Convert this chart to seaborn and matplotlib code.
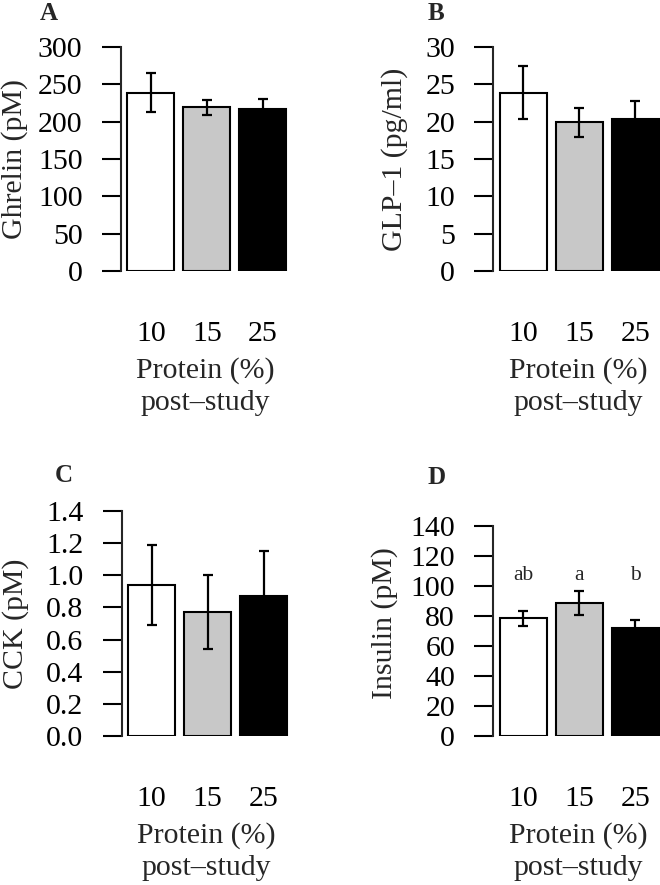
import matplotlib
matplotlib.use("Agg")
import matplotlib.pyplot as plt
import seaborn as sns
import pandas as pd
import numpy as np

# ---- data ----
protein = ["10", "15", "25"]
ghrelin_mean = [239, 219, 217]
ghrelin_sem = [26, 10.5, 13]
glp1_mean = [23.9, 19.9, 20.4]
glp1_sem = [3.6, 1.9, 2.4]
cck_mean = [0.94, 0.77, 0.87]
cck_sem = [0.25, 0.23, 0.28]
insulin_mean = [78.5, 88.5, 72.0]
insulin_sem = [5.0, 8.0, 5.3]
insulin_letters = ["ab", "a", "b"]
letter_y = 104

bar_colors = ["#FFFFFF", "#C8C8C8", "#000000"]

sns.set_style("ticks")
plt.rcParams["font.family"] = ["Liberation Serif", "DejaVu Serif"]

W, H = 660, 885
fig = plt.figure(figsize=(W / 100, H / 100), dpi=100)


def px_axes(left, top, width, height):
    return fig.add_axes([left / W, 1 - (top + height) / H, width / W, height / H])


FS = 21.5
panels = [
    # (label, ylabel, mean, sem, ylim, ticks, fmt, rect, letterpos, ylabel_x, spine_top)
    ("A", "Ghrelin (pM)", ghrelin_mean, ghrelin_sem, (0, 300), np.arange(0, 301, 50), "{:.0f}",
     (120.7, 47, 170, 224), (49, 14), -0.548, 300),
    ("B", "GLP\u20131 (pg/ml)", glp1_mean, glp1_sem, (0, 30), np.arange(0, 31, 5), "{:.0f}",
     (493.3, 47, 170, 224), (436, 14), -0.502, 30),
    ("C", "CCK (pM)", cck_mean, cck_sem, (0, 1.4), np.round(np.arange(0, 1.41, 0.2), 1), "{:.1f}",
     (121.5, 511, 170, 225), (63.5, 476), -0.545, 1.4),
    ("D", "Insulin (pM)", insulin_mean, insulin_sem, (0, 150), np.arange(0, 141, 20), "{:.0f}",
     (493.3, 511, 170, 225), (437, 478), -0.559, 140),
]

for (lab, ylab, mean, sem, ylim, ticks, fmt, rect, lpos, ylx, spine_top) in panels:
    ax = px_axes(*rect)
    df = pd.DataFrame({"protein": protein, "value": mean, "sem": sem})
    sns.barplot(data=df, x="protein", y="value", hue="protein", order=protein,
                hue_order=protein, palette=bar_colors, dodge=False, width=0.84,
                edgecolor="black", linewidth=1.5, errorbar=None, legend=False, ax=ax)
    xs = np.arange(len(protein))
    ax.errorbar(xs, df["value"], yerr=df["sem"], fmt="none", ecolor="black",
                elinewidth=1.6, capsize=3.5, capthick=1.6, zorder=5)
    ax.set_xlim(-0.54, 2.5)
    ax.set_ylim(*ylim)
    ax.set_yticks(ticks)
    ax.set_yticklabels([fmt.format(t) for t in ticks])
    for s in ["top", "right", "bottom"]:
        ax.spines[s].set_visible(False)
    ax.spines["left"].set_linewidth(1.5)
    ax.spines["left"].set_bounds(0, spine_top)
    ax.tick_params(axis="y", direction="out", length=13.5, width=1.5, pad=14,
                   labelsize=FS, colors="black")
    ax.tick_params(axis="x", length=0, pad=36, labelsize=FS, colors="black")
    ax.set_xlabel("Protein (%)\npost\u2013study", fontsize=FS, labelpad=7, linespacing=1.3)
    ax.set_ylabel(ylab, fontsize=FS)
    ax.yaxis.set_label_coords(ylx, 0.5)
    fig.text(lpos[0] / W, 1 - lpos[1] / H, lab, ha="center", va="center",
             fontsize=18, fontweight="bold")
    if lab == "D":
        for x, t in zip(xs, insulin_letters):
            ax.text(x, letter_y, t, ha="center", va="baseline", fontsize=15.5)

fig.savefig("out.png", dpi=100)
